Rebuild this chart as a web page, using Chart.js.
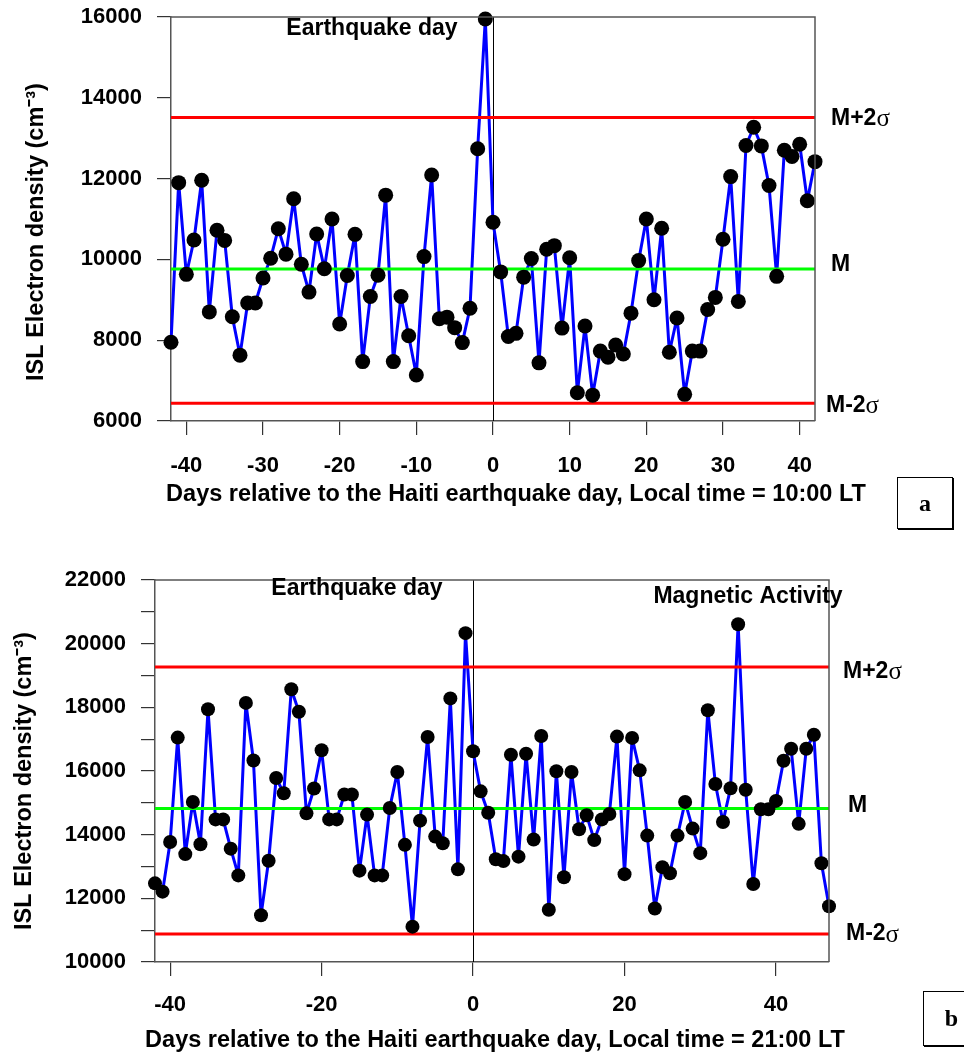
<!DOCTYPE html>
<html><head><meta charset="utf-8">
<script src="https://cdn.jsdelivr.net/npm/chart.js@4.4.1/dist/chart.umd.min.js"></script>
<style>
html,body{margin:0;padding:0;background:#fff;overflow:hidden;width:964px;height:1058px;}
.wrap{position:absolute;left:0;width:964px;}
#wa{top:0;height:540px;}
#wb{top:530px;height:528px;}
.box{position:absolute;border:1px solid #000;box-shadow:1px 1px 0 #000;font:bold 24px "Liberation Serif","Times New Roman",serif;display:flex;align-items:center;justify-content:center;background:#fff;color:#000;}
</style></head>
<body>
<div class="wrap" id="wa"><canvas id="ca" width="964" height="540"></canvas></div>
<div class="wrap" id="wb"><canvas id="cb" width="964" height="528"></canvas></div>
<div class="box" style="left:897px;top:477px;width:54px;height:50px;">a</div>
<div class="box" style="left:923px;top:991px;width:55px;height:53px;">b</div>
<script>
// ---------- DATA ----------
// Panel a (10:00 LT)
const daysA = [-42,-41,-40,-39,-38,-37,-36,-35,-34,-33,-32,-31,-30,-29,-28,-27,-26,-25,-24,-23,-22,-21,-20,-19,-18,-17,-16,-15,-14,-13,-12,-11,-10,-9,-8,-7,-6,-5,-4,-3,-2,-1,0,1,2,3,4,5,6,7,8,9,10,11,12,13,14,15,16,17,18,19,20,21,22,23,24,25,26,27,28,29,30,31,32,33,34,35,36,37,38,39,40,41,42];
const densityA = [7950,11900,9630,10480,11960,8700,10720,10470,8580,7630,8920,8920,9540,10030,10760,10130,11500,9880,9190,10630,9770,11000,8400,9600,10620,7470,9080,9610,11590,7470,9080,8110,7140,10070,12090,8530,8570,8310,7940,8790,12740,15950,10920,9690,8090,8170,9560,10020,7440,10250,10340,8300,10040,6700,8350,6640,7730,7580,7880,7660,8670,9970,11000,9000,10770,7700,8550,6660,7730,7730,8760,9060,10500,12050,8960,12820,13270,12810,11830,9580,12700,12550,12850,11450,12420];
const meanA = 9760, upperA = 13510, lowerA = 6440;
const xTicksA = [-40,-30,-20,-10,0,10,20,30,40];
const yTicksA = [6000,8000,10000,12000,14000,16000];

// Panel b (21:00 LT)
const daysB = [-42,-41,-40,-39,-38,-37,-36,-35,-34,-33,-32,-31,-30,-29,-28,-27,-26,-25,-24,-23,-22,-21,-20,-19,-18,-17,-16,-15,-14,-13,-12,-11,-10,-9,-8,-7,-6,-5,-4,-3,-2,-1,0,1,2,3,4,5,6,7,8,9,10,11,12,13,14,15,16,17,18,19,20,21,22,23,24,25,26,27,28,29,30,31,32,33,34,35,36,37,38,39,40,41,42,43,44,45,46,47];
const densityB = [12470,12210,13770,17050,13390,15030,13700,17940,14480,14480,13560,12720,18140,16330,11470,13180,15780,15300,18570,17860,14670,15450,16650,14480,14480,15260,15260,12870,14630,12720,12720,14840,15970,13680,11110,14440,17070,13940,13730,18280,12910,20330,16620,15360,14690,13230,13170,16510,13310,16540,13850,17100,11640,15990,12660,15970,14170,14610,13830,14480,14650,17080,12760,17040,16020,13970,11680,12980,12790,13970,15030,14190,13420,17910,15590,14400,15460,20610,15410,12450,14800,14800,15060,16320,16700,14340,16700,17140,13100,11750];
const meanB = 14820, upperB = 19270, lowerB = 10880;
const xTicksB = [-40,-20,0,20,40];
const yTicksB = [10000,11000,12000,13000,14000,15000,16000,17000,18000,19000,20000,21000,22000];
const yLabelsB = [10000,12000,14000,16000,18000,20000,22000];

const EQ_DAY = 0;
const yTitle = 'ISL Electron density (cm\u207B\u00B3)';
const xTitleA = 'Days relative to the Haiti earthquake day, Local time = 10:00 LT';
const xTitleB = 'Days relative to the Haiti earthquake day, Local time = 21:00 LT';

// ---------- DRAWING ----------
const SANS = '"Liberation Sans", Arial, Helvetica, sans-serif';
const SERIF = '"Liberation Serif", "Times New Roman", serif';

function makeDecor(cfg) {
  return {
    id: 'decor',
    beforeDatasetsDraw(chart) {
      const {ctx, chartArea: a, scales: {x}} = chart;
      ctx.save();
      const px = Math.round(x.getPixelForValue(cfg.eqDay)) + 0.5;
      ctx.strokeStyle = '#000'; ctx.lineWidth = 1;
      ctx.beginPath(); ctx.moveTo(px, a.top); ctx.lineTo(px, a.bottom); ctx.stroke();
      ctx.restore();
    },
    afterDraw(chart) {
      const {ctx, chartArea: a, scales: {y}} = chart;
      const off = cfg.offsetTop;
      ctx.save();
      ctx.strokeStyle = '#555'; ctx.lineWidth = 1.5;
      ctx.beginPath(); ctx.moveTo(a.left, a.top); ctx.lineTo(a.right, a.top); ctx.lineTo(a.right, a.bottom); ctx.stroke();
      ctx.fillStyle = '#000';
      ctx.textBaseline = 'middle';
      // axis titles
      ctx.font = 'bold 23.5px ' + SANS;
      ctx.textAlign = 'center';
      ctx.fillText(cfg.xTitle, cfg.xTitlePos[0], cfg.xTitlePos[1] - off);
      ctx.save();
      ctx.translate(cfg.yTitlePos[0], cfg.yTitlePos[1] - off);
      ctx.rotate(-Math.PI / 2);
      ctx.fillText(cfg.yTitle, 0, 0);
      ctx.restore();
      // annotations
      ctx.font = 'bold 23px ' + SANS;
      cfg.notes.forEach(n => ctx.fillText(n.text, n.x, n.y - off));
      // M labels
      ctx.textAlign = 'left';
      cfg.mLabels.forEach(m => {
        const yy = y.getPixelForValue(m.value) + m.dy;
        const xx = a.right + m.dx;
        ctx.font = 'bold 23px ' + SANS;
        ctx.fillText(m.text, xx, yy);
        if (m.sigma) {
          const w = ctx.measureText(m.text).width;
          ctx.font = '25px ' + SERIF;
          ctx.fillText('\u03C3', xx + w, yy + 1);
        }
      });
      ctx.restore();
    }
  };
}

function build(canvasId, p) {
  const pts = p.days.map((d, i) => ({x: d, y: p.vals[i]}));
  const x0 = p.days[0], x1 = p.days[p.days.length - 1];
  const hline = v => [{x: x0, y: v}, {x: x1, y: v}];
  const tickFont = {family: SANS, size: 22, weight: 'bold'};
  return new Chart(document.getElementById(canvasId), {
    type: 'line',
    data: {
      datasets: [
        {data: pts, showLine: false, clip: false, pointRadius: p.r, pointHoverRadius: p.r, pointBackgroundColor: '#000', pointBorderWidth: 0, order: 0},
        {data: hline(p.upper), borderColor: '#ff0000', borderWidth: 3, pointRadius: 0, order: 1},
        {data: hline(p.lower), borderColor: '#ff0000', borderWidth: 3, pointRadius: 0, order: 1},
        {data: hline(p.mean), borderColor: '#00ff00', borderWidth: 3, pointRadius: 0, order: 1},
        {data: pts, clip: false, borderColor: '#0000ff', borderWidth: 3, borderJoinStyle: 'round', pointRadius: 0, tension: 0, order: 2}
      ]
    },
    options: {
      responsive: false, animation: false, events: [],
      layout: {padding: p.pad},
      plugins: {legend: {display: false}, tooltip: {enabled: false}},
      scales: {
        x: {
          type: 'linear', min: x0, max: x1,
          afterBuildTicks: s => { s.ticks = p.xTicks.map(v => ({value: v})); },
          afterFit: s => { s.height = p.xHeight; s.paddingLeft = 0; s.paddingRight = 0; },
          grid: {drawOnChartArea: false, drawTicks: true, tickLength: 14, tickColor: '#333', lineWidth: 1.2},
          border: {display: true, color: '#555', width: 1.5},
          ticks: {font: tickFont, color: '#000', padding: p.xPad, maxRotation: 0, autoSkip: false}
        },
        y: {
          type: 'linear', min: p.yTicks[0], max: p.yTicks[p.yTicks.length - 1],
          afterBuildTicks: s => { s.ticks = p.yTicks.map(v => ({value: v})); },
          afterFit: s => { s.width = p.yWidth; s.paddingTop = 0; s.paddingBottom = 0; },
          grid: {drawOnChartArea: false, drawTicks: true, tickLength: 14, tickColor: '#333', lineWidth: 1.2},
          border: {display: true, color: '#555', width: 1.5},
          ticks: {font: tickFont, color: '#000', padding: 15, autoSkip: false,
                  callback: v => p.yLabels.includes(v) ? String(v) : ''}
        }
      }
    },
    plugins: [makeDecor(p.decor)]
  });
}

build('ca', {
  days: daysA, vals: densityA, mean: meanA, upper: upperA, lower: lowerA,
  xTicks: xTicksA, yTicks: yTicksA, yLabels: yTicksA, r: 7.5,
  pad: {top: 17, right: 149, left: 0, bottom: 0}, xHeight: 119, yWidth: 171, xPad: 18,
  decor: {
    offsetTop: 0, eqDay: EQ_DAY,
    xTitle: xTitleA, xTitlePos: [516, 495],
    yTitle: yTitle, yTitlePos: [37, 232],
    notes: [{text: 'Earthquake day', x: 372, y: 29}],
    mLabels: [
      {text: 'M+2', sigma: true, value: upperA, dx: 16, dy: 1},
      {text: 'M', sigma: false, value: meanA, dx: 16, dy: -4},
      {text: 'M-2', sigma: true, value: lowerA, dx: 11, dy: 2}
    ]
  }
});

build('cb', {
  days: daysB, vals: densityB, mean: meanB, upper: upperB, lower: lowerB,
  xTicks: xTicksB, yTicks: yTicksB, yLabels: yLabelsB, r: 7,
  pad: {top: 50, right: 135, left: 0, bottom: 0}, xHeight: 96, yWidth: 155, xPad: 16,
  decor: {
    offsetTop: 530, eqDay: EQ_DAY,
    xTitle: xTitleB, xTitlePos: [495, 1041],
    yTitle: yTitle, yTitlePos: [25, 781],
    notes: [{text: 'Earthquake day', x: 357, y: 589}, {text: 'Magnetic Activity', x: 748, y: 597}],
    mLabels: [
      {text: 'M+2', sigma: true, value: upperB, dx: 14, dy: 5},
      {text: 'M', sigma: false, value: meanB, dx: 19, dy: -3},
      {text: 'M-2', sigma: true, value: lowerB, dx: 17, dy: 0}
    ]
  }
});
</script>
</body></html>
